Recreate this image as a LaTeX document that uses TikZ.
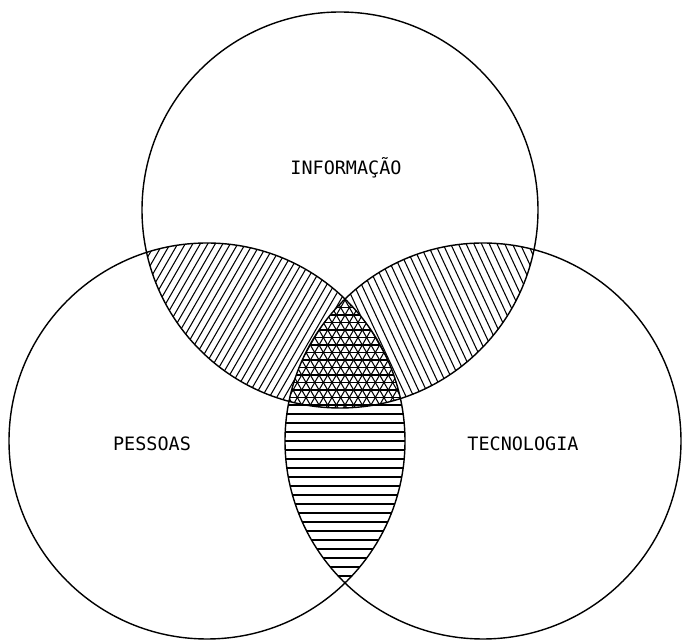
\documentclass[tikz,border=0pt]{standalone}
\usepackage{fontspec}
\setmonofont{DejaVu Sans Mono}
\begin{document}
\begin{tikzpicture}[
    ring/.style={line width=0.8pt},
    hatch/.style={line width=0.6pt},
    tag/.style={font=\ttfamily\fontsize{10.5}{12}\selectfont, anchor=base}]
  \useasboundingbox (0,0) rectangle (13.64,12.84);
  \def\rad{3.96}
  \coordinate (info) at (6.80,8.64);
  \coordinate (pess) at (4.14,4.02);
  \coordinate (tecn) at (9.66,4.02);

  % informacao / pessoas
  \begin{scope}
    \clip (info) circle (\rad);
    \clip (pess) circle (\rad);
    \begin{scope}[shift={(5.47,6.34)},rotate=60]
      \foreach \k in {-28,...,28}
        \draw[hatch] (-4,\k*0.13) -- (4,\k*0.13);
    \end{scope}
  \end{scope}

  % informacao / tecnologia
  \begin{scope}
    \clip (info) circle (\rad);
    \clip (tecn) circle (\rad);
    \begin{scope}[shift={(8.23,6.33)},rotate=115]
      \foreach \k in {-26,...,26}
        \draw[hatch] (-4,\k*0.14) -- (4,\k*0.14);
    \end{scope}
  \end{scope}

  % pessoas / tecnologia
  \begin{scope}
    \clip (pess) circle (\rad);
    \clip (tecn) circle (\rad);
    \foreach \k in {-17,...,17}
      \draw[hatch] (5.5,4.02+\k*0.18) -- (8.3,4.02+\k*0.18);
  \end{scope}

  % all three
  \begin{scope}
    \clip (info) circle (\rad);
    \clip (pess) circle (\rad);
    \clip (tecn) circle (\rad);
    \fill[white] (5,3) rectangle (9,8);
    \foreach \a in {0,60,120}{
      \begin{scope}[shift={(6.90,5.64)},rotate=\a]
        \foreach \k in {-14,...,14}
          \draw[hatch] (-2.5,\k*0.15) -- (2.5,\k*0.15);
      \end{scope}
    }
  \end{scope}

  \draw[ring] (info) circle (\rad);
  \draw[ring] (pess) circle (\rad);
  \draw[ring] (tecn) circle (\rad);

  \node[tag] (infolbl) at (6.92,9.34) {INFORMAÇÃO};
  \node[tag] (pesslbl) at (3.04,3.82) {PESSOAS};
  \node[tag] (tecnlbl) at (10.46,3.82) {TECNOLOGIA};
\end{tikzpicture}
\end{document}
